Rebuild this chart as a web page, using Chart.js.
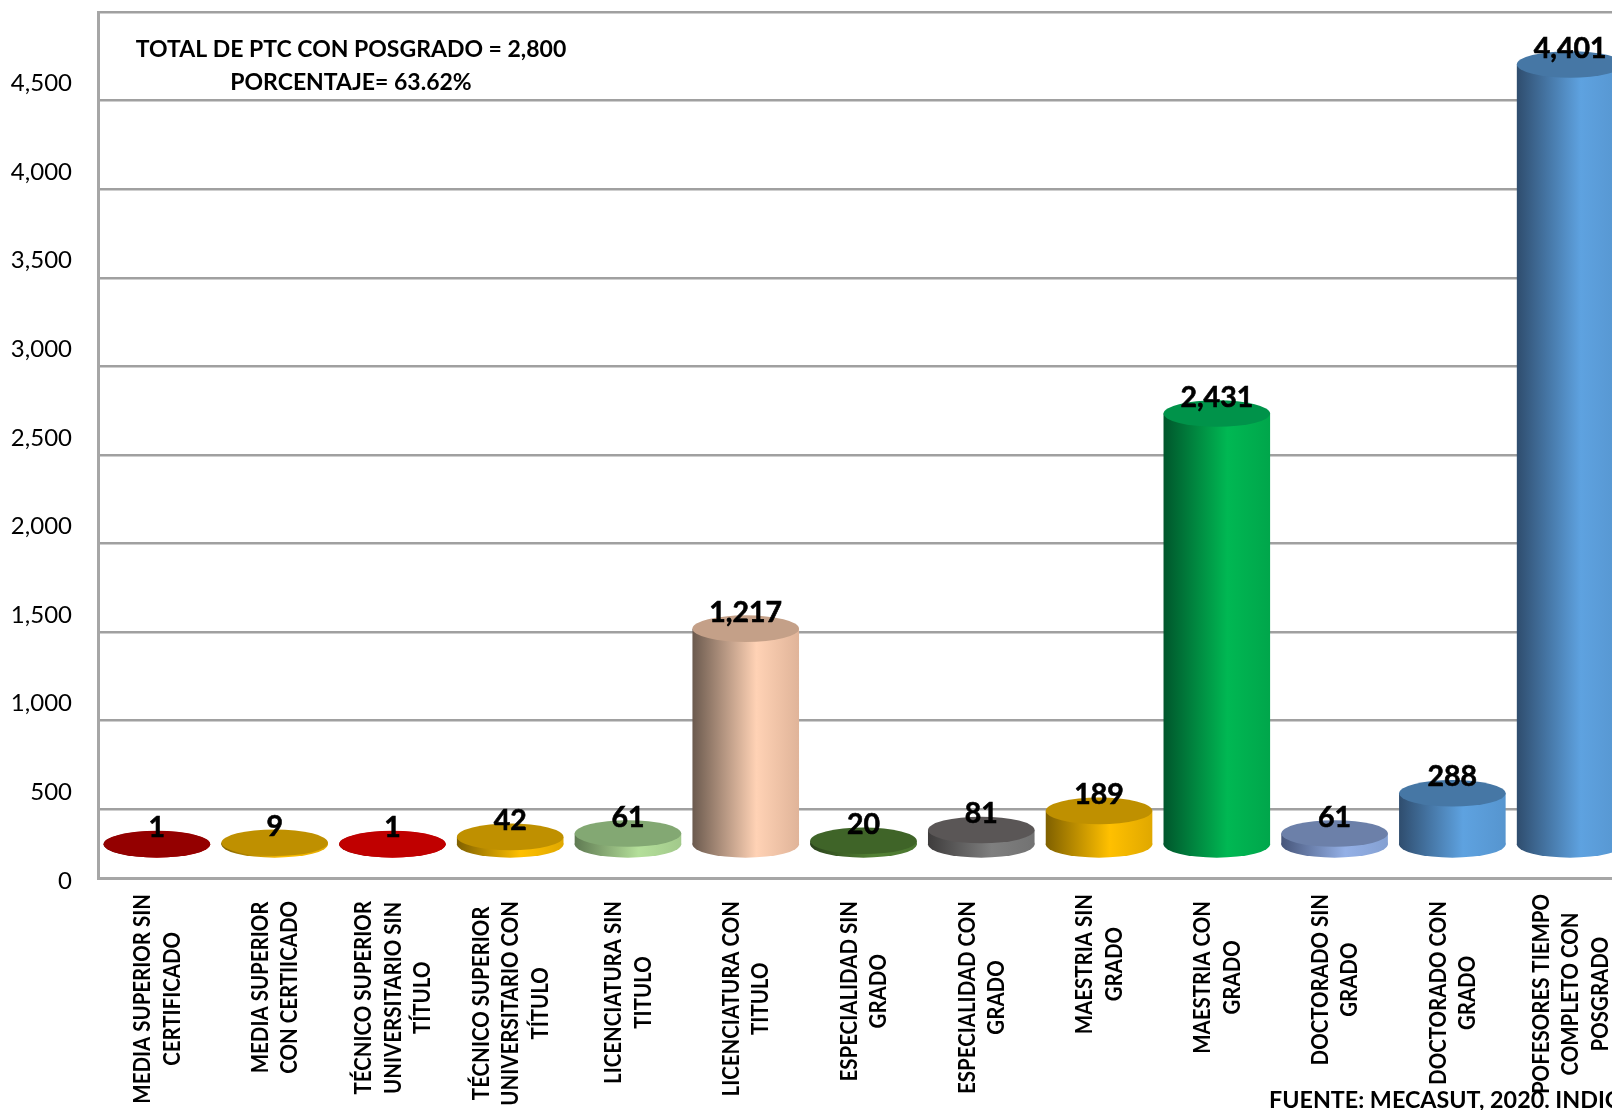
<!DOCTYPE html>
<html lang="es">
<head>
    <meta charset="UTF-8">
    <title>PTC con posgrado</title>
    <script src="https://cdn.jsdelivr.net/npm/chart.js"></script>
    <style>
        html, body {
            margin: 0;
            padding: 0;
            background: #fff;
            overflow: hidden;
            width: 1612px;
            height: 1110px;
        }
        #chartContainer {
            width: 1612px;
            height: 1110px;
            overflow: hidden;
        }
    </style>
</head>
<body>

<div id="chartContainer">
    <canvas id="ptcChart" width="1629" height="1110"></canvas>
</div>

<script>
    // Data
    const categories = [
        ['MEDIA SUPERIOR SIN', 'CERTIFICADO'],
        ['MEDIA SUPERIOR', 'CON CERTIICADO'],
        ['TÉCNICO SUPERIOR', 'UNIVERSITARIO SIN', 'TÍTULO'],
        ['TÉCNICO SUPERIOR', 'UNIVERSITARIO CON', 'TÍTULO'],
        ['LICENCIATURA SIN', 'TITULO'],
        ['LICENCIATURA CON', 'TITULO'],
        ['ESPECIALIDAD SIN', 'GRADO'],
        ['ESPECIALIDAD CON', 'GRADO'],
        ['MAESTRIA SIN', 'GRADO'],
        ['MAESTRIA CON', 'GRADO'],
        ['DOCTORADO SIN', 'GRADO'],
        ['DOCTORADO CON', 'GRADO'],
        ['POFESORES TIEMPO', 'COMPLETO CON', 'POSGRADO']
    ];
    const values = [1, 9, 1, 42, 61, 1217, 20, 81, 189, 2431, 61, 288, 4401];
    const labelTicks = [0, 500, 1000, 1500, 2000, 2500, 3000, 3500, 4000, 4500];
    const gridTicks = [500, 1000, 1500, 2000, 2500, 3000, 3500, 4000, 4500, 5000];
    const capColors = ['#940000', '#BF9000', '#C00000', '#BF9000', '#83A873', '#C4A088', '#3F6428',
        '#5A5656', '#BF9000', '#00934A', '#6C80A9', '#4677A5', '#4677A5'];
    const sideLeft = ['#610000', '#7F6000', '#800000', '#7F6000', '#5F7A52', '#6B5A4E', '#2A431B',
        '#3E3C3C', '#7F6000', '#00562C', '#47567A', '#2F4D6E', '#2F4D6E'];
    const sideLight = ['#C00000', '#FFC000', '#E00000', '#FFC000', '#B4DF9A', '#FFD2B5', '#548235',
        '#7F7F7F', '#FFC000', '#00B853', '#94B0E6', '#5EA2E0', '#5EA2E0'];
    const sideRight = ['#A00000', '#E0A800', '#C00000', '#E0A800', '#A2C98B', '#E0B499', '#4A7530',
        '#727272', '#E0A800', '#00A64B', '#84A0D2', '#5695CF', '#5695CF'];
    const noteLines = ['TOTAL DE PTC CON POSGRADO = 2,800', 'PORCENTAJE= 63.62%'];
    const sourceNote = 'FUENTE: MECASUT, 2020. INDICADORES';

    const CAP_RY = 13.3;
    const LABEL_SQUEEZE = 0.93; // Lato runs wider than the font in the picture
    const LABEL_GAP = [16, 23, 23, 23, 23, 23, 23, 23, 16, 23, 16, 23, 16]; // below the x axis, the picture is uneven

    function sideGradient(c, i, left, right) {
        const g = c.createLinearGradient(left, 0, right, 0);
        g.addColorStop(0, sideLeft[i]);
        g.addColorStop(0.6, sideLight[i]);
        g.addColorStop(1, sideRight[i]);
        return g;
    }

    // Bars come out flat from Chart.js, so the plugin adds the ellipses that make them cylinders
    const cylinders = {
        id: 'cylinders',
        beforeDatasetsDraw(chart) {
            const c = chart.ctx;
            chart.getDatasetMeta(0).data.forEach((bar, i) => {
                c.save();
                c.fillStyle = sideGradient(c, i, bar.x - bar.width / 2, bar.x + bar.width / 2);
                c.beginPath();
                c.ellipse(bar.x, bar.base, bar.width / 2, CAP_RY, 0, 0, Math.PI * 2);
                c.fill();
                c.restore();
            });
        },
        afterDatasetsDraw(chart) {
            const c = chart.ctx;
            chart.getDatasetMeta(0).data.forEach((bar, i) => {
                const text = values[i].toLocaleString('en-US');
                c.save();
                c.fillStyle = capColors[i];
                c.beginPath();
                c.ellipse(bar.x, bar.y, bar.width / 2, CAP_RY, 0, 0, Math.PI * 2);
                c.fill();
                c.fillStyle = '#000';
                c.strokeStyle = '#000';
                c.lineWidth = 0.6;
                c.font = 'bold 28.5px Lato, sans-serif';
                c.textAlign = 'center';
                c.textBaseline = 'middle';
                c.fillText(text, bar.x, bar.y - 16);
                c.strokeText(text, bar.x, bar.y - 16);
                c.restore();
            });
        }
    };

    // Chart.js right-aligns rotated multi-line ticks, here each line has to be centred
    const sideLabels = {
        id: 'sideLabels',
        afterDraw(chart) {
            const c = chart.ctx;
            const xScale = chart.scales.x;
            c.save();
            c.font = 'bold 22px Lato, sans-serif';
            c.fillStyle = '#000';
            c.textAlign = 'center';
            c.textBaseline = 'middle';
            chart.data.labels.forEach((lines, i) => {
                const longest = Math.max(...lines.map(t => c.measureText(t).width)) * LABEL_SQUEEZE;
                const x = xScale.getPixelForTick(i) + 1;
                c.save();
                c.translate(x, xScale.top + LABEL_GAP[i] + longest / 2);
                c.rotate(-Math.PI / 2);
                c.scale(LABEL_SQUEEZE, 1);
                lines.forEach((t, n) => {
                    c.fillText(t, 0, (n - (lines.length - 1) / 2) * 29.3);
                });
                c.restore();
            });
            c.font = 'bold 23px Lato, sans-serif';
            c.fillText(noteLines[0], 351, 50);
            c.fillText(noteLines[1], 351, 83);
            c.font = 'bold 23.3px Lato, sans-serif';
            c.textAlign = 'left';
            c.fillText(sourceNote, 1269, 1100);
            c.restore();
        }
    };

    const chartCtx = document.getElementById('ptcChart').getContext('2d');
    const ptcChart = new Chart(chartCtx, {
        type: 'bar',
        data: {
            labels: categories,
            datasets: [{
                data: values,
                yAxisID: 'yBars',
                categoryPercentage: 1,
                barPercentage: 0.905,
                backgroundColor: (ctx) => {
                    const mid = ctx.chart.scales.x.getPixelForValue(ctx.dataIndex);
                    if (!Number.isFinite(mid)) return '#000';
                    return sideGradient(ctx.chart.ctx, ctx.dataIndex, mid - 53.3, mid + 53.3);
                },
                borderWidth: 0
            }]
        },
        options: {
            responsive: false,
            animation: false,
            events: [],
            layout: { padding: { top: 12, left: 0, right: 0, bottom: 0 } },
            plugins: { legend: { display: false }, tooltip: { enabled: false } },
            scales: {
                x: {
                    grid: { display: false },
                    border: { color: '#A6A6A6', width: 3 },
                    ticks: { display: false },
                    afterFit: (ax) => {
                        ax.height = 232;
                        ax.paddingLeft = 0;
                        ax.paddingRight = 0;
                    }
                },
                // tick labels, they sit on the front edge of the 3D box
                y: {
                    min: 16,
                    max: 4903,
                    afterBuildTicks: (ax) => { ax.ticks = labelTicks.map(value => ({ value })); },
                    grid: { display: false },
                    border: { color: '#A6A6A6', width: 3 },
                    ticks: {
                        padding: 18,
                        color: '#000',
                        font: { family: 'Lato, sans-serif', size: 24 },
                        callback: (v) => v.toLocaleString('en-US')
                    },
                    afterFit: (ax) => {
                        ax.width = 98;
                        ax.paddingTop = 0;
                        ax.paddingBottom = 0;
                    }
                },
                // gridlines, on the back wall of the 3D box
                yGrid: {
                    position: 'left',
                    min: 112,
                    max: 5000,
                    afterBuildTicks: (ax) => { ax.ticks = gridTicks.map(value => ({ value })); },
                    grid: { color: '#A0A0A0', lineWidth: 2.5, drawTicks: false },
                    border: { display: false },
                    ticks: { display: false }
                },
                // bars stand in the middle of the floor
                yBars: {
                    display: false,
                    min: -190,
                    max: 4697
                }
            }
        },
        plugins: [cylinders, sideLabels]
    });
</script>

</body>
</html>
